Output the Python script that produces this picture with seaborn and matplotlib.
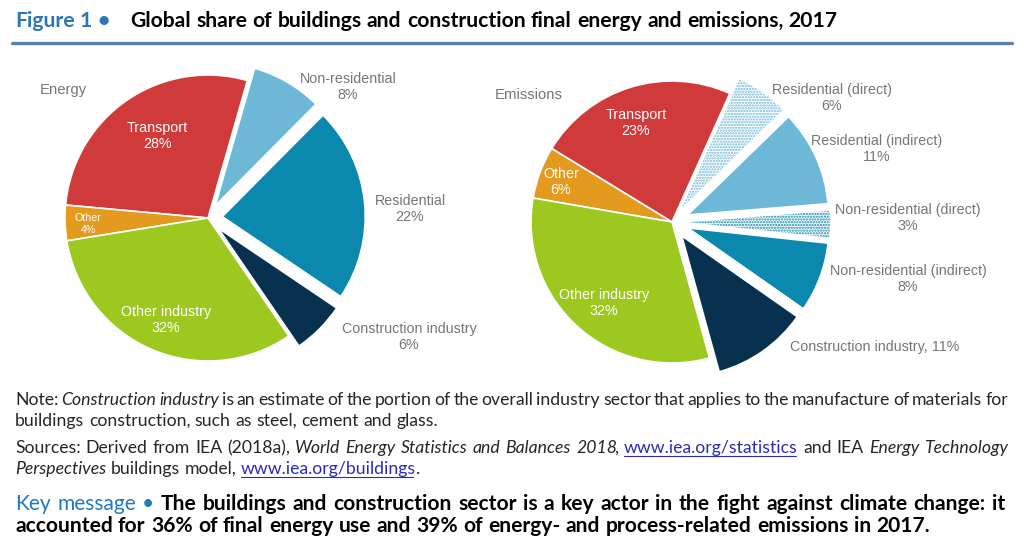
import matplotlib
matplotlib.use("Agg")
import matplotlib.pyplot as plt
import seaborn as sns
from matplotlib import font_manager
from matplotlib.lines import Line2D

# ---- data ----
energy_labels = ["Transport", "Other", "Other industry", "Construction industry",
                 "Residential", "Non-residential"]
energy_values = [28, 4, 32, 6, 22, 8]

emission_labels = ["Transport", "Other", "Other industry", "Construction industry",
                   "Non-residential (indirect)", "Non-residential (direct)",
                   "Residential (indirect)", "Residential (direct)"]
emission_values = [23, 6, 32, 11, 8, 3, 11, 6]

# ---- styling ----
RED, ORANGE, GREEN = "#D13A3B", "#E39A1E", "#9DC81F"
NAVY, TEAL, LIGHT = "#08304F", "#0B88AE", "#6DB8D7"
energy_colors = [RED, ORANGE, GREEN, NAVY, TEAL, LIGHT]
energy_explode = [0, 0, 0, 0.1, 0.1, 0.1]
emission_colors = [RED, ORANGE, GREEN, NAVY, TEAL, TEAL, LIGHT, LIGHT]
emission_explode = [0, 0, 0, 0.12, 0.12, 0.12, 0.12, 0.12]
emission_hatched = [False, False, False, False, False, True, False, True]

W, H = 1024, 553
sns.set_theme(style="white")
names = {f.name for f in font_manager.fontManager.ttflist}
NARROW = "Liberation Sans Narrow" if "Liberation Sans Narrow" in names else "Liberation Sans"
BODY = "Lato" if "Lato" in names else "DejaVu Sans"
plt.rcParams["font.family"] = [BODY, "DejaVu Sans"]
plt.rcParams["hatch.linewidth"] = 1.1

fig = plt.figure(figsize=(W / 100, H / 100), dpi=100)
fig.patch.set_facecolor("white")
renderer = fig.canvas.get_renderer()


def px(x, y):
    return x / W, 1 - y / H


def width_of(t):
    return t.get_window_extent(renderer).width


def fit_size(s, target, family, weight="normal", base=10):
    t = fig.text(0, 0, s, fontsize=base, family=family, weight=weight)
    w = width_of(t)
    t.remove()
    return base * target / w


def pie_axes(cx, cy, r, pad=1.4):
    half = r * pad
    ax = fig.add_axes([(cx - half) / W, 1 - (cy + half) / H, 2 * half / W, 2 * half / H])
    return ax, pad


def draw_pie(ax, pad, values, colors, explode, start, hatched=None):
    wedges, _ = ax.pie(values, colors=colors, explode=explode, startangle=start,
                       counterclock=True, radius=1,
                       wedgeprops=dict(edgecolor="white", linewidth=1.2))
    if hatched:
        for w, c, h in zip(wedges, colors, hatched):
            if h:
                w.set_facecolor("white")
                w.set_hatch("......")
                w.set_edgecolor(c)
                w.set_linewidth(0)
    ax.set_xlim(-pad, pad)
    ax.set_ylim(-pad, pad)
    ax.axis("off")


ax1, p1 = pie_axes(208, 218, 143)
draw_pie(ax1, p1, energy_values, energy_colors, energy_explode, 74)
ax2, p2 = pie_axes(672, 222, 141)
draw_pie(ax2, p2, emission_values, emission_colors, emission_explode, 65.8, emission_hatched)

# ---- pie labels ----
lab = fit_size("Construction industry", 134, NARROW)
GRAY = "#767676"


def label(x, y, s, color=GRAY, size=None):
    fig.text(*px(x, y), s, ha="center", va="center", color=color, family=NARROW,
             fontsize=size or lab, linespacing=1.2)


def pct(name, values, labels):
    return f"{values[labels.index(name)]}%"


fig.text(*px(40, 90), "Energy", ha="left", va="center", color=GRAY, family=NARROW, fontsize=lab * 1.05)
label(157, 136, "Transport\n" + pct("Transport", energy_values, energy_labels), "white")
label(88, 224, "Other\n" + pct("Other", energy_values, energy_labels), "white", lab * 0.75)
label(166, 320, "Other industry\n" + pct("Other industry", energy_values, energy_labels), "white")
label(348, 87, "Non-residential\n" + pct("Non-residential", energy_values, energy_labels))
label(410, 209, "Residential\n" + pct("Residential", energy_values, energy_labels))
label(409, 337, "Construction industry\n" + pct("Construction industry", energy_values, energy_labels))

fig.text(*px(495, 95), "Emissions", ha="left", va="center", color=GRAY, family=NARROW, fontsize=lab * 1.05)
label(636, 123, "Transport\n" + pct("Transport", emission_values, emission_labels), "white")
label(561, 182, "Other\n" + pct("Other", emission_values, emission_labels), "white")
label(604, 303, "Other industry\n" + pct("Other industry", emission_values, emission_labels), "white")
for name, (x, y) in zip(emission_labels[4:], [(908, 279), (908, 218), (877, 149), (832, 98)]):
    label(x, y, name + "\n" + pct(name, emission_values, emission_labels))
label(875, 347, "Construction industry, " + pct("Construction industry", emission_values, emission_labels))

# ---- rich text lines ----
STYLES = {
    "n": dict(color="#262626"),
    "i": dict(color="#262626", style="italic"),
    "u": dict(color="#2B2BB8"),
    "b": dict(color="black", weight="bold"),
    "k": dict(color="#2179BE"),
    "tb": dict(color="#2E75B6", weight="bold"),
}


def rich(x, y, parts, size, width=None):
    words, glue = [], False
    for txt, st in parts:
        for i, piece in enumerate(txt.split(" ")):
            if i > 0:
                glue = False
            if piece:
                if glue and words:
                    words[-1].append((piece, st))
                else:
                    words.append([(piece, st)])
                glue = True
    items, total = [], 0
    for word in words:
        segs = []
        for j, (txt, st) in enumerate(word):
            t = fig.text(0, 0, txt, fontsize=size, va="baseline", ha="left", **STYLES[st])
            w = width_of(t)
            if j < len(word) - 1:
                w -= 2.0 if st == "i" else 1.2
            segs.append((t, w, st))
            total += w
        items.append(segs)
    a = fig.text(0, 0, "x x", fontsize=size)
    b = fig.text(0, 0, "xx", fontsize=size)
    space = width_of(a) - width_of(b)
    a.remove()
    b.remove()
    gap = (width - total) / (len(items) - 1) if width else space
    cur = x
    for segs in items:
        for t, w, st in segs:
            t.set_position(px(cur, y))
            if st == "u":
                fig.add_artist(Line2D([cur / W, (cur + w - 1.5) / W], [1 - (y + 2.5) / H] * 2,
                                      color=STYLES["u"]["color"], lw=0.8))
            cur += w
        cur += gap


# title
tsize = fit_size("Global share of buildings and construction final energy and emissions, 2017",
                 708, BODY, "bold")
rich(15, 27, [("Figure 1 \u2022", "tb")], tsize)
rich(130, 27, [("Global share of buildings and construction final energy and emissions, 2017", "b")], tsize)
fig.add_artist(Line2D([12 / W, 1012 / W], [1 - 43 / H] * 2, color="#5A80B4", lw=2.4))

nsize = fit_size("buildings construction, such as steel, cement and glass.", 422, BODY)
rich(15, 405, [("Note:", "n"), (" Construction industry", "i"),
               (" is an estimate of the portion of the overall industry sector that applies to the "
                "manufacture of materials for", "n")], nsize, 993)
rich(15, 426, [("buildings construction, such as steel, cement and glass.", "n")], nsize)
rich(15, 453, [("Sources: Derived from IEA (2018a),", "n"),
               (" World Energy Statistics and Balances 2018", "i"), (",", "n"),
               (" www.iea.org/statistics", "u"), (" and IEA", "n"),
               (" Energy Technology", "i")], nsize, 993)
rich(15, 474, [("Perspectives", "i"), (" buildings model,", "n"),
               (" www.iea.org/buildings", "u"), (".", "n")], nsize)

ksize = fit_size("accounted for 36% of final energy use and 39% of energy- and process-related "
                 "emissions in 2017.", 915, BODY, "bold")
rich(15, 510, [("Key message \u2022", "k"),
               (" The buildings and construction sector is a key actor in the fight against "
                "climate change: it", "b")], ksize, 990)
rich(15, 532, [("accounted for 36% of final energy use and 39% of energy- and process-related "
                "emissions in 2017.", "b")], ksize)

fig.savefig("out.png", dpi=100, facecolor="white")
